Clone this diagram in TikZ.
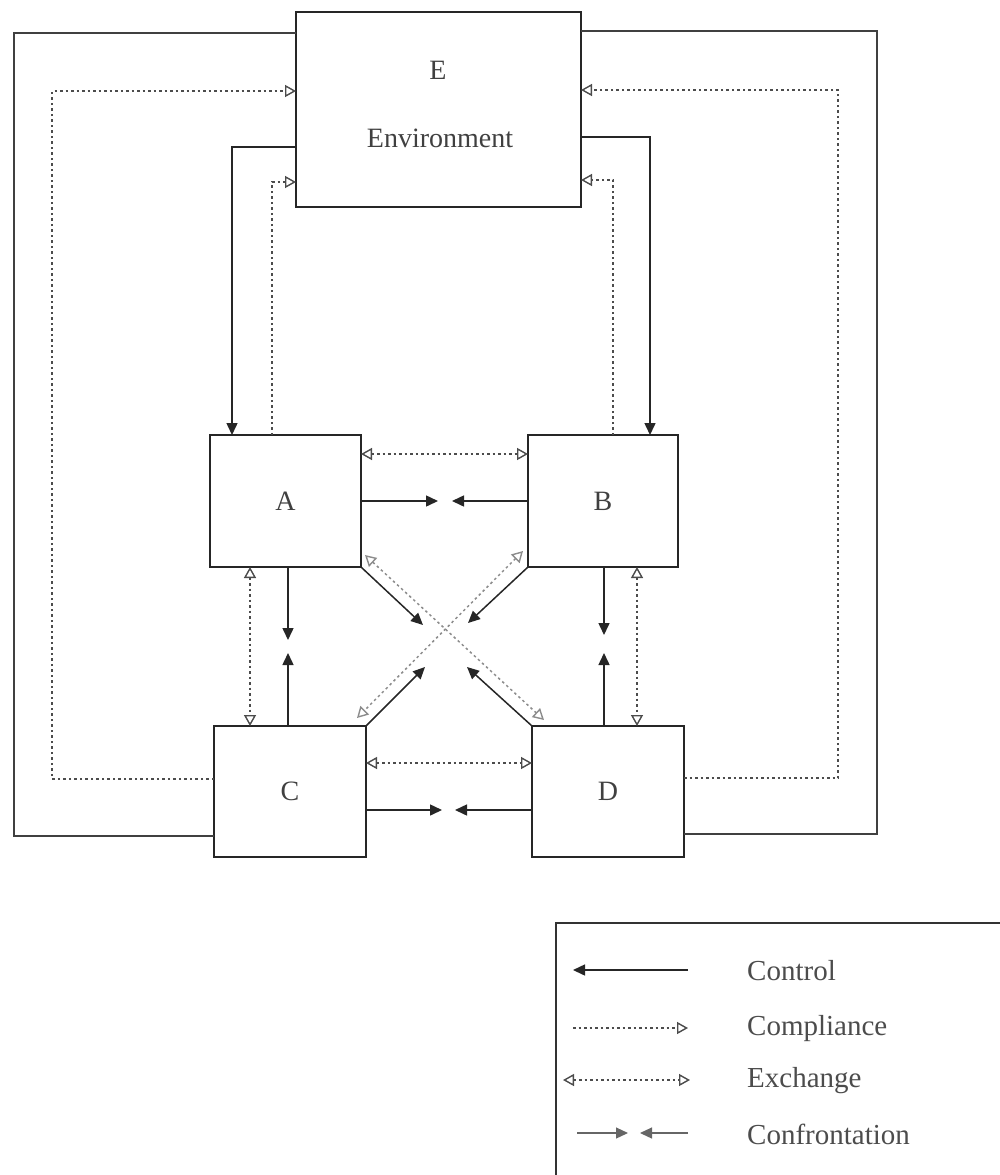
\documentclass[tikz,border=0pt]{standalone}
\usepackage{fontspec}
\setmainfont{Liberation Serif}
\usetikzlibrary{arrows.meta,calc}
\begin{document}
\begin{tikzpicture}[x=1pt,y=-1pt,
  box/.style={draw=black!85, line width=1.6pt, inner sep=0pt, outer sep=0pt, rectangle,
    font=\fontsize{28}{30}\selectfont, text=black!75},
  lbl/.style={font=\fontsize{28}{30}\selectfont, text=black!75, inner sep=0pt},
  leglbl/.style={font=\fontsize{29}{30}\selectfont, text=black!70, inner sep=0pt, anchor=west},
  ctrl/.style={draw=black!85, line width=1.5pt, arrows={-Triangle[length=12pt,width=11pt]}},
  plain/.style={draw=black!75, line width=1.5pt},
  comp/.style={draw=black!70, line width=1.5pt, dash pattern=on 2.5pt off 3pt,
    arrows={-Triangle[open,length=11pt,width=12pt,line width=1.4pt]}},
  exchg/.style={draw=black!70, line width=1.5pt, dash pattern=on 2.5pt off 3pt,
    arrows={Triangle[open,length=11pt,width=12pt,line width=1.4pt]-Triangle[open,length=11pt,width=12pt,line width=1.4pt]}},
  diag/.style={exchg, draw=black!45}
]
\useasboundingbox (0,0) rectangle (999,1175);

% boxes
\node[box, minimum width=285pt, minimum height=195pt] (E) at (438.5,109.5) {};
\node[lbl] (Et) at (438,70) {E};
\node[lbl] (Env) at (440,138) {Environment};
\node[box, minimum width=151pt, minimum height=132pt] (A) at (285.5,501) {A};
\node[box, minimum width=150pt, minimum height=132pt] (B) at (603,501) {B};
\node[box, minimum width=152pt, minimum height=131pt] (C) at (290,791.5) {C};
\node[box, minimum width=152pt, minimum height=131pt] (D) at (608,791.5) {D};

% outer solid loops
\draw[plain] ($(E.north west)+(0,21)$) -| ($(C.north west)+(-200,110)$) -- ($(C.north west)+(0,110)$);
\draw[plain] ($(E.north east)+(0,19)$) -| ($(D.north east)+(193,108)$) -- ($(D.north east)+(0,108)$);

% outer compliance loops
\draw[comp] ($(C.north west)+(0,53)$) -| ($(E.north west)+(-244,79)$) -- ($(E.north west)+(0,79)$);
\draw[comp] ($(D.north east)+(0,52)$) -| ($(E.north east)+(257,78)$) -- ($(E.north east)+(0,78)$);

% E -> A, E -> B control
\draw[ctrl] ($(E.north west)+(0,135)$) -| ($(A.north west)+(22,0)$);
\draw[ctrl] ($(E.north east)+(0,125)$) -| ($(B.north west)+(122,0)$);

% A -> E, B -> E compliance
\draw[comp] ($(A.north west)+(62,0)$) |- ($(E.north west)+(0,170)$);
\draw[comp] ($(B.north west)+(85,0)$) |- ($(E.north east)+(0,168)$);

% A - B
\draw[exchg] ($(A.north east)+(0,19)$) -- ($(B.north west)+(0,19)$);
\draw[ctrl] (A.east) -- ($(A.east)+(77,0)$);
\draw[ctrl] (B.west) -- ($(B.west)+(-76,0)$);

% C - D
\draw[exchg] ($(C.north east)+(0,37)$) -- ($(D.north west)+(0,37)$);
\draw[ctrl] ($(C.north east)+(0,84)$) -- ($(C.north east)+(76,84)$);
\draw[ctrl] ($(D.north west)+(0,84)$) -- ($(D.north west)+(-77,84)$);

% A - C
\draw[exchg] ($(A.south west)+(40,0)$) -- ($(C.north west)+(36,0)$);
\draw[ctrl] ($(A.south west)+(78,0)$) -- ($(A.south west)+(78,73)$);
\draw[ctrl] ($(C.north west)+(74,0)$) -- ($(C.north west)+(74,-73)$);

% B - D
\draw[exchg] ($(B.south west)+(109,0)$) -- ($(D.north west)+(105,0)$);
\draw[ctrl] ($(B.south west)+(76,0)$) -- ($(B.south west)+(76,68)$);
\draw[ctrl] ($(D.north west)+(72,0)$) -- ($(D.north west)+(72,-73)$);

% diagonals
\draw[ctrl] (A.south east) -- ($(A.south east)+(62,58)$);
\draw[ctrl] (D.north west) -- ($(D.north west)+(-65,-59)$);
\draw[diag] ($(A.south east)+(4,-12)$) -- ($(D.north west)+(12,-6)$);
\draw[ctrl] (B.south west) -- ($(B.south west)+(-60,56)$);
\draw[ctrl] (C.north east) -- ($(C.north east)+(59,-59)$);
\draw[diag] ($(B.south west)+(-5,-16)$) -- ($(C.north east)+(-9,-8)$);

% legend
\node[draw=black!80, line width=1.5pt, minimum width=460pt, minimum height=280pt,
  anchor=north west, inner sep=0pt, outer sep=0pt] (legend) at (556,923) {};
\coordinate (L) at (legend.north west);
\draw[ctrl] ($(L)+(132,47)$) -- ($(L)+(17,47)$);
\draw[comp] ($(L)+(17,105)$) -- ($(L)+(132,105)$);
\draw[exchg] ($(L)+(7,157)$) -- ($(L)+(134,157)$);
\draw[ctrl, line width=1.2pt, draw=black!60] ($(L)+(21,210)$) -- ($(L)+(72,210)$);
\draw[ctrl, line width=1.2pt, draw=black!60] ($(L)+(132,210)$) -- ($(L)+(84,210)$);
\node[leglbl] (lc1) at ($(L)+(191,48)$) {Control};
\node[leglbl] (lc2) at ($(L)+(191,106)$) {Compliance};
\node[leglbl] (lc3) at ($(L)+(191,158)$) {Exchange};
\node[leglbl] (lc4) at ($(L)+(191,211)$) {Confrontation};
\end{tikzpicture}
\end{document}
